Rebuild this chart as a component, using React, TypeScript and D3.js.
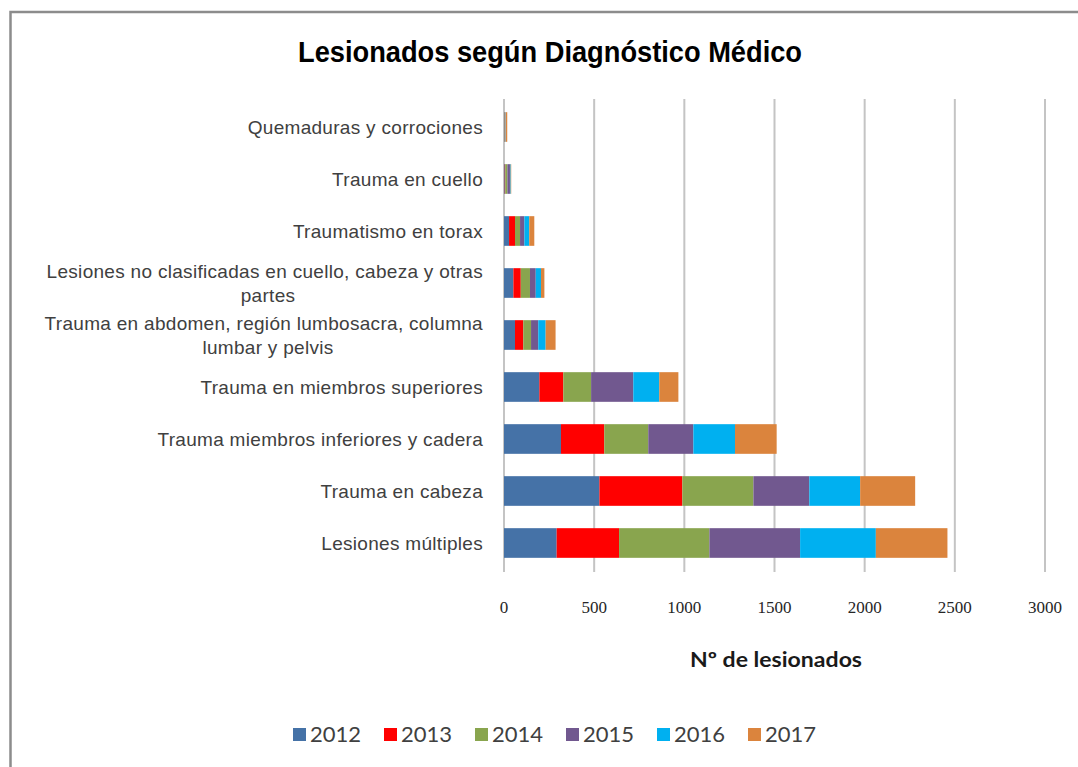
import * as d3 from 'd3';

const years = ['2012', '2013', '2014', '2015', '2016', '2017'];
const colors = ['#4572A7', '#FF0000', '#89A54E', '#71588F', '#00B0F0', '#DB843D'];

// top to bottom as shown
const categories = [
  ['Quemaduras y corrociones'],
  ['Trauma en cuello'],
  ['Traumatismo en torax'],
  ['Lesiones no  clasificadas en cuello, cabeza y otras', 'partes'],
  ['Trauma en abdomen,  región lumbosacra, columna', 'lumbar y pelvis'],
  ['Trauma en miembros superiores'],
  ['Trauma miembros inferiores y cadera'],
  ['Trauma en cabeza'],
  ['Lesiones múltiples'],
];

const s2012 = [2, 4, 28, 52, 61, 196, 316, 529, 292];
const s2013 = [1, 3, 33, 41, 46, 133, 240, 460, 346];
const s2014 = [2, 12, 28, 51, 43, 154, 244, 394, 501];
const s2015 = [2, 14, 24, 32, 40, 234, 250, 310, 503];
const s2016 = [2, 4, 27, 29, 41, 144, 231, 282, 420];
const s2017 = [9, 3, 28, 19, 55, 106, 231, 305, 397];

const xTicks = [0, 500, 1000, 1500, 2000, 2500, 3000];

const series = [s2012, s2013, s2014, s2015, s2016, s2017];

export default function App() {
  const width = 1078;
  const height = 767;
  const plot = { left: 504, right: 1045, top: 101, bottom: 569 };

  const x = d3.scaleLinear().domain([0, 3000]).range([plot.left, plot.right]);
  const y = d3
    .scaleBand<number>()
    .domain(categories.map((_, i) => i))
    .range([plot.top, plot.bottom])
    .paddingInner(0.43)
    .paddingOuter(0.215);

  const rows = categories.map((_, i) => {
    const r: Record<string, number> = { idx: i };
    years.forEach((yr, k) => (r[yr] = series[k][i]));
    return r;
  });
  const stacked = d3.stack<Record<string, number>>().keys(years)(rows);

  const labelProps = {
    fontFamily: "'Liberation Sans', Arial, sans-serif",
    fontSize: 19,
    fill: '#404040',
    letterSpacing: 0.3,
  };

  return (
    <svg width={width} height={height} style={{ position: 'absolute', left: 0, top: 0 }}>
      <rect x={0} y={0} width={width} height={height} fill="#fff" />
      {/* chart frame */}
      <path d={`M10.5,${height} L10.5,12 L${width},12`} fill="none" stroke="#8c8c8c" strokeWidth={2.5} />

      <text
        x={550}
        y={62}
        textAnchor="middle"
        fontFamily="'Liberation Sans Narrow', 'Liberation Sans', Arial, sans-serif"
        fontWeight="bold"
        fontSize={30}
        fill="#000"
        textLength={504}
        lengthAdjust="spacingAndGlyphs"
      >
        Lesionados según Diagnóstico Médico
      </text>

      {/* grid */}
      {xTicks.map((t) => (
        <line key={t} x1={x(t)} x2={x(t)} y1={plot.top - 2} y2={plot.bottom + 3} stroke="#c4c4c4" strokeWidth={2} />
      ))}

      {/* bars */}
      {stacked.map((layer, k) => (
        <g key={layer.key} fill={colors[k]}>
          {layer.map((d, i) => (
            <rect
              key={i}
              x={x(d[0])}
              y={y(i)!}
              width={Math.max(0, x(d[1]) - x(d[0]))}
              height={y.bandwidth()}
            />
          ))}
        </g>
      ))}

      {/* category labels */}
      {categories.map((lines, i) => {
        const cy = y(i)! + y.bandwidth() / 2;
        if (lines.length === 1) {
          return (
            <text key={i} x={483} y={cy + 7} textAnchor="end" {...labelProps}>
              {lines[0]}
            </text>
          );
        }
        return (
          <g key={i}>
            <text x={483} y={cy - 5} textAnchor="end" {...labelProps}>
              {lines[0]}
            </text>
            <text x={268} y={cy + 19} textAnchor="middle" {...labelProps}>
              {lines[1]}
            </text>
          </g>
        );
      })}

      {/* x tick labels */}
      {xTicks.map((t) => (
        <text key={t} x={x(t)} y={613} textAnchor="middle" fontFamily="'Liberation Serif', 'DejaVu Serif', serif" fontSize={17} fill="#262626">
          {t}
        </text>
      ))}

      <text
        x={776}
        y={667}
        textAnchor="middle"
        fontFamily="Lato, 'Open Sans', sans-serif"
        fontWeight="bold"
        fontSize={21}
        fill="#1a1a1a"
        textLength={172}
        lengthAdjust="spacingAndGlyphs"
      >
        Nº de lesionados
      </text>

      {/* legend */}
      {years.map((yr, k) => (
        <g key={yr} transform={`translate(${293 + k * 91},728)`}>
          <rect x={0} y={0} width={13} height={13} fill={colors[k]} />
          <text x={17} y={14} fontFamily="Lato, 'Open Sans', sans-serif" fontSize={22} fill="#404040">
            {yr}
          </text>
        </g>
      ))}
    </svg>
  );
}
